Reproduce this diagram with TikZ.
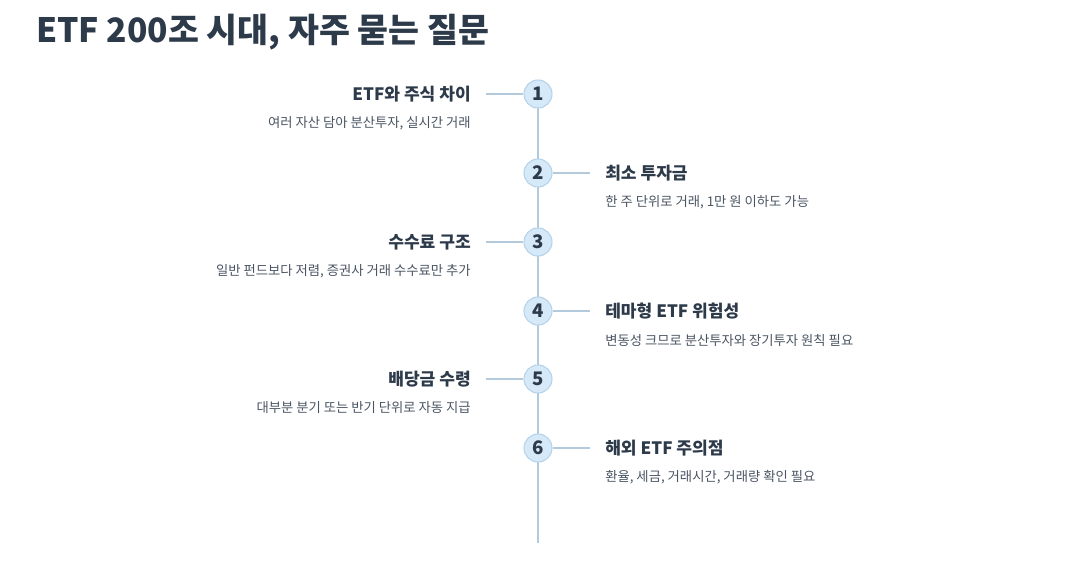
\documentclass[tikz,border=0pt]{standalone}
\usepackage{fontspec}
\setmainfont{Noto Sans CJK KR}
\definecolor{ink}{HTML}{2D3A4A}
\definecolor{sub}{HTML}{4A5563}
\definecolor{ln}{HTML}{B3CADC}
\definecolor{cf}{HTML}{D6E9F8}
\definecolor{cb}{HTML}{B5D3EA}
\begin{document}
\begin{tikzpicture}[x=0.75pt,y=-0.75pt,
  num/.style={circle,fill=cf,draw=cb,line width=0.8pt,minimum size=21pt,inner sep=0pt,font=\fontsize{14}{15}\selectfont\bfseries,text=ink},
  ttl/.style={font=\fontsize{12.8}{14}\selectfont\bfseries,text=ink,inner sep=0pt},
  dsc/.style={font=\fontsize{10}{12}\selectfont,text=sub,inner sep=0pt},
  conn/.style={draw=ln,line width=1.3pt}]
\useasboundingbox (0,0) rectangle (1082,567);
\node[anchor=west,font=\fontsize{25.2}{28}\selectfont\bfseries,text=ink,inner sep=0pt] (title) at (36,32) {ETF 200조 시대, 자주 묻는 질문};
\coordinate (bot) at (538,543);
\foreach \i/\y in {1/94,2/173,3/242,4/311,5/379,6/448} \coordinate (p\i) at (538,\y);
\draw[conn] (p1) -- (bot);
\foreach \i/\y/\t/\d in {1/94/{ETF와 주식 차이}/{여러 자산 담아 분산투자, 실시간 거래},3/242/{수수료 구조}/{일반 펀드보다 저렴, 증권사 거래 수수료만 추가},5/379/{배당금 수령}/{대부분 분기 또는 반기 단위로 자동 지급}}{
  \node[num] (n\i) at (p\i) {\i};
  \coordinate (e\i) at (486,\y);
  \draw[conn] (e\i) -- (n\i);
  \node[ttl,anchor=east] (t\i) at (471,\y) {\t};
  \node[dsc,anchor=east] (d\i) at (471,\y+29) {\d};
}
\foreach \i/\y/\t/\d in {2/173/{최소 투자금}/{한 주 단위로 거래, 1만 원 이하도 가능},4/311/{테마형 ETF 위험성}/{변동성 크므로 분산투자와 장기투자 원칙 필요},6/448/{해외 ETF 주의점}/{환율, 세금, 거래시간, 거래량 확인 필요}}{
  \node[num] (n\i) at (p\i) {\i};
  \coordinate (e\i) at (590,\y);
  \draw[conn] (n\i) -- (e\i);
  \node[ttl,anchor=west] (t\i) at (605,\y) {\t};
  \node[dsc,anchor=west] (d\i) at (605,\y+29) {\d};
}
\end{tikzpicture}
\end{document}
